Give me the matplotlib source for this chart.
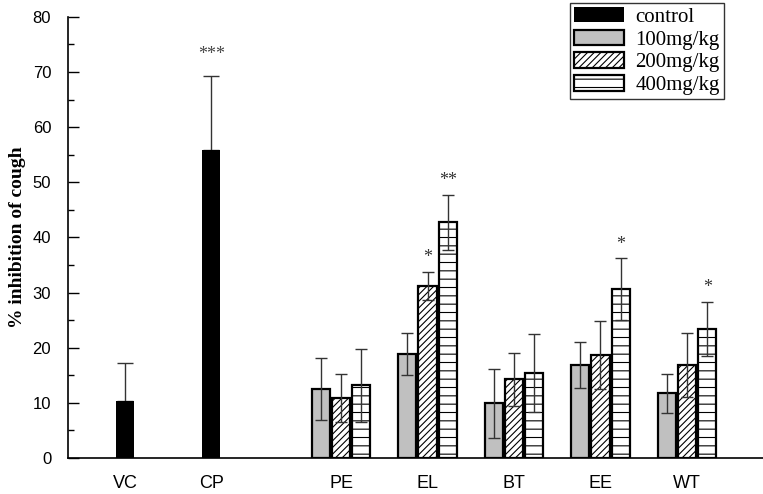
import matplotlib
matplotlib.use('Agg')
import matplotlib.pyplot as plt
import numpy as np
from matplotlib.ticker import MultipleLocator

# control groups
ctrl_labels = ["VC", "CP"]
ctrl_vals = [10.3, 55.8]
ctrl_err = [7.0, 13.5]

# extracts at three doses
groups = ["PE", "EL", "BT", "EE", "WT"]
dose_labels = ["100mg/kg", "200mg/kg", "400mg/kg"]
vals_100 = [12.5, 18.9, 9.9, 16.8, 11.7]
err_100 = [5.7, 3.8, 6.3, 4.2, 3.6]
vals_200 = [10.9, 31.2, 14.3, 18.7, 16.8]
err_200 = [4.3, 2.6, 4.8, 6.2, 5.8]
vals_400 = [13.2, 42.7, 15.4, 30.6, 23.4]
err_400 = [6.6, 5.0, 7.0, 5.6, 4.9]

stars_ctrl = ["", "***"]
stars_200 = ["", "*", "", "", ""]
stars_400 = ["", "**", "", "*", "*"]

plt.rcParams['hatch.linewidth'] = 0.8
serif = 'Liberation Serif'
sans = 'Liberation Sans'

fig = plt.figure(figsize=(7.63, 4.94), dpi=100)
ax = fig.add_axes([0.089, 0.073, 0.911, 0.893])

x_ctrl = np.array([1.0, 2.0])
x_grp = np.arange(len(groups)) + 3.5
w = 0.21
off = 0.235

ax.bar(x_ctrl, ctrl_vals, w, color='black', label='control', zorder=2)
# only the upper half shows above a black bar
ax.errorbar(x_ctrl, ctrl_vals, yerr=[np.zeros(len(ctrl_err)), ctrl_err], fmt='none',
            ecolor='#333333', elinewidth=1.0, capsize=5.5, capthick=1.0, zorder=1)

specs = [
    (vals_100, err_100, -off, dict(color='#c0c0c0', edgecolor='black')),
    (vals_200, err_200, 0.0, dict(color='white', edgecolor='black', hatch='/////')),
    (vals_400, err_400, off, dict(color='white', edgecolor='black', hatch='--')),
]
for (v, e, o, st), lab in zip(specs, dose_labels):
    ax.bar(x_grp + o, v, w, linewidth=1.6, label=lab, zorder=2, **st)
    ax.errorbar(x_grp + o, v, yerr=e, fmt='none', ecolor='#333333', elinewidth=1.0,
                capsize=4, capthick=1.0, zorder=3)

# significance marks
for x, v, e, s in zip(x_ctrl, ctrl_vals, ctrl_err, stars_ctrl):
    if s:
        ax.text(x, v + e + 2.3, s, ha='center', va='bottom', fontsize=13, color='#444444', family=serif)
for x, v, e, s in zip(x_grp, vals_200, err_200, stars_200):
    if s:
        ax.text(x, v + e + 1.0, s, ha='center', va='bottom', fontsize=13, color='#333333', family=serif)
for x, v, e, s in zip(x_grp + off, vals_400, err_400, stars_400):
    if s:
        ax.text(x, v + e + 1.0, s, ha='center', va='bottom', fontsize=13, color='#333333', family=serif)

ax.set_xlim(0.34, 8.38)
ax.set_ylim(0, 80)
ax.set_xticks(list(x_ctrl) + list(x_grp))
ax.set_xticklabels(ctrl_labels + groups, family=sans, fontsize=13)
ax.tick_params(axis='x', length=0, pad=12)
ax.yaxis.set_major_locator(MultipleLocator(10))
ax.yaxis.set_minor_locator(MultipleLocator(5))
ax.tick_params(axis='y', which='major', direction='in', length=8, width=1, labelsize=12, pad=12)
ax.tick_params(axis='y', which='minor', direction='in', length=4, width=1)
for lab in ax.get_yticklabels():
    lab.set_family(sans)
ax.spines['top'].set_visible(False)
ax.spines['right'].set_visible(False)
ax.spines['left'].set_linewidth(1.2)
ax.spines['bottom'].set_linewidth(1.2)

ax.set_ylabel('% inhibition of cough', family=serif, fontweight='bold', fontsize=14, labelpad=5)

leg = ax.legend(loc='upper right', bbox_to_anchor=(0.944, 1.032), prop={'family': serif, 'size': 15},
                frameon=True, fancybox=False, edgecolor='black', handlelength=2.4, handleheight=0.75,
                labelspacing=0.14, borderpad=0.2, handletextpad=0.55, borderaxespad=0)
leg.get_frame().set_linewidth(1.0)

fig.savefig('out.png', dpi=100)
